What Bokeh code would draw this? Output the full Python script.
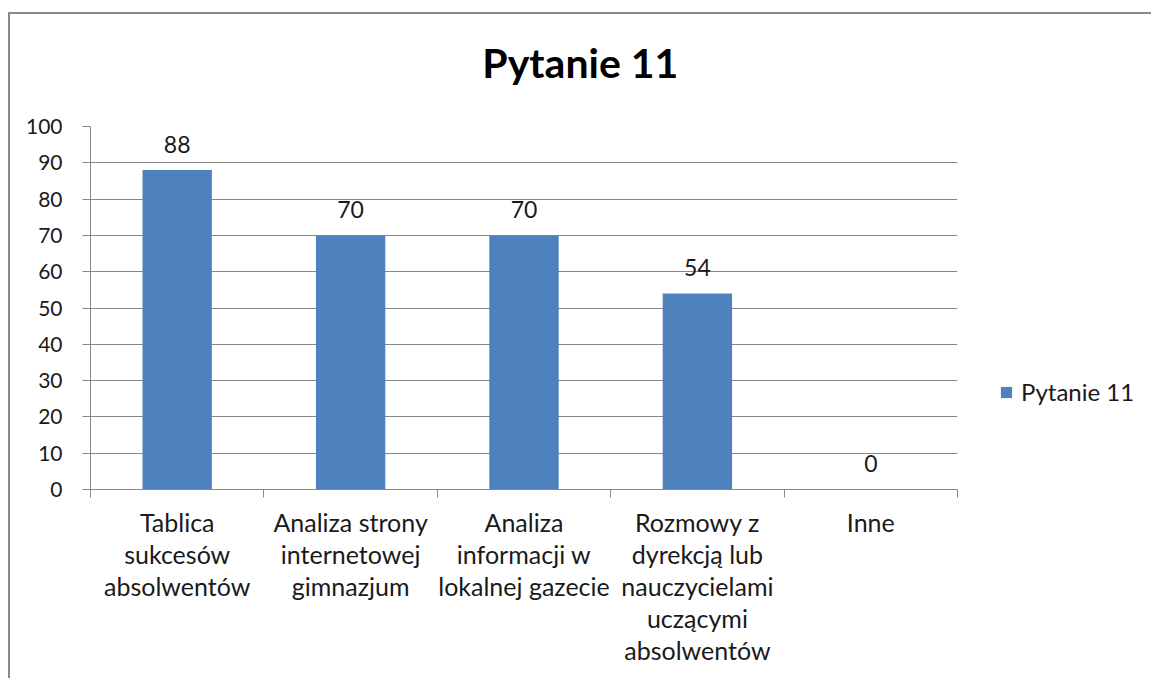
from bokeh.plotting import figure
from bokeh.models import ColumnDataSource, FixedTicker, Legend, LegendItem, Range1d, LinearAxis
from bokeh.core.properties import value
from bokeh.embed import file_html
from bokeh.resources import INLINE

categories = [
    "Tablica\nsukcesów\nabsolwentów",
    "Analiza strony\ninternetowej\ngimnazjum",
    "Analiza\ninformacji w\nlokalnej gazecie",
    "Rozmowy z\ndyrekcją lub\nnauczycielami\nuczącymi\nabsolwentów",
    "Inne",
]
values = [88, 70, 70, 54, 0]
series_name = "Pytanie 11"
title_text = "Pytanie 11"
y_ticks = list(range(0, 101, 10))

FONT = "Lato"
BLUE = "#4F81BD"
GRAY = "#898989"
TXT = "#1a1a1a"

n = len(categories)
xs = [i + 0.5 for i in range(n)]
src = ColumnDataSource(dict(x=xs, top=values, lbl=[str(v) for v in values]))

p = figure(frame_width=867, frame_height=363, output_backend="svg", toolbar_location=None,
           x_range=Range1d(0, n), y_range=Range1d(0, 100),
           min_border_left=80, min_border_right=193, min_border_top=112, min_border_bottom=189)
p.styles = {"border-top": f"2px solid {GRAY}", "border-left": f"2px solid {GRAY}",
            "margin-top": "12px", "margin-left": "8px"}
p.outline_line_color = None
p.background_fill_color = "white"

r = p.vbar(x="x", top="top", width=0.4, source=src, fill_color=BLUE, line_color=None)
p.text(x="x", y="top", text="lbl", source=src, text_align="center", text_baseline="middle",
       y_offset=-26, text_font=value(FONT), text_font_size="23px", text_color=TXT)

# axes
p.xaxis.ticker = FixedTicker(ticks=xs, minor_ticks=list(range(n + 1)))
p.xaxis.major_label_overrides = {x: c for x, c in zip(xs, categories)}
p.xaxis.major_tick_line_color = None
p.xaxis.major_tick_out = 0
p.xaxis.minor_tick_line_color = GRAY
p.xaxis.minor_tick_out = 8
p.xaxis.minor_tick_in = 0
p.xaxis.axis_line_color = GRAY
p.xaxis.major_label_text_font = FONT
p.xaxis.major_label_text_font_size = "25px"
p.xaxis.major_label_text_color = TXT
p.xaxis.major_label_text_line_height = 1.07
p.xaxis.major_label_standoff = 9
p.xaxis.major_label_orientation = "horizontal"

p.yaxis.ticker = FixedTicker(ticks=y_ticks, minor_ticks=[])
p.yaxis.axis_line_color = GRAY
p.yaxis.major_tick_line_color = GRAY
p.yaxis.major_tick_out = 8
p.yaxis.major_tick_in = 0
p.yaxis.major_label_text_font = FONT
p.yaxis.major_label_text_font_size = "21px"
p.yaxis.major_label_text_color = TXT
p.yaxis.major_label_standoff = 20

p.xgrid.grid_line_color = None
p.ygrid.ticker = FixedTicker(ticks=y_ticks)
p.ygrid.grid_line_color = GRAY

# chart title, drawn as the single label of a bare axis above the plot area
title_pos = n * 0.565
title_axis = LinearAxis(ticker=FixedTicker(ticks=[title_pos], minor_ticks=[]),
                        major_label_overrides={title_pos: title_text},
                        axis_line_color=None, major_tick_line_color=None, minor_tick_line_color=None,
                        major_tick_out=0, major_tick_in=0,
                        major_label_text_font=FONT, major_label_text_font_size="41px",
                        major_label_text_font_style="bold", major_label_text_color="black",
                        major_label_standoff=40)
p.add_layout(title_axis, "above")

legend = Legend(items=[LegendItem(label=series_name, renderers=[r])], location=(42, 83),
                border_line_color=None, background_fill_alpha=0,
                label_text_font=FONT, label_text_font_size="24px", label_text_color=TXT,
                glyph_width=14, glyph_height=14, label_standoff=8, margin=0, padding=0)
p.add_layout(legend, "right")

open("out.html", "w").write(file_html(p, INLINE))
